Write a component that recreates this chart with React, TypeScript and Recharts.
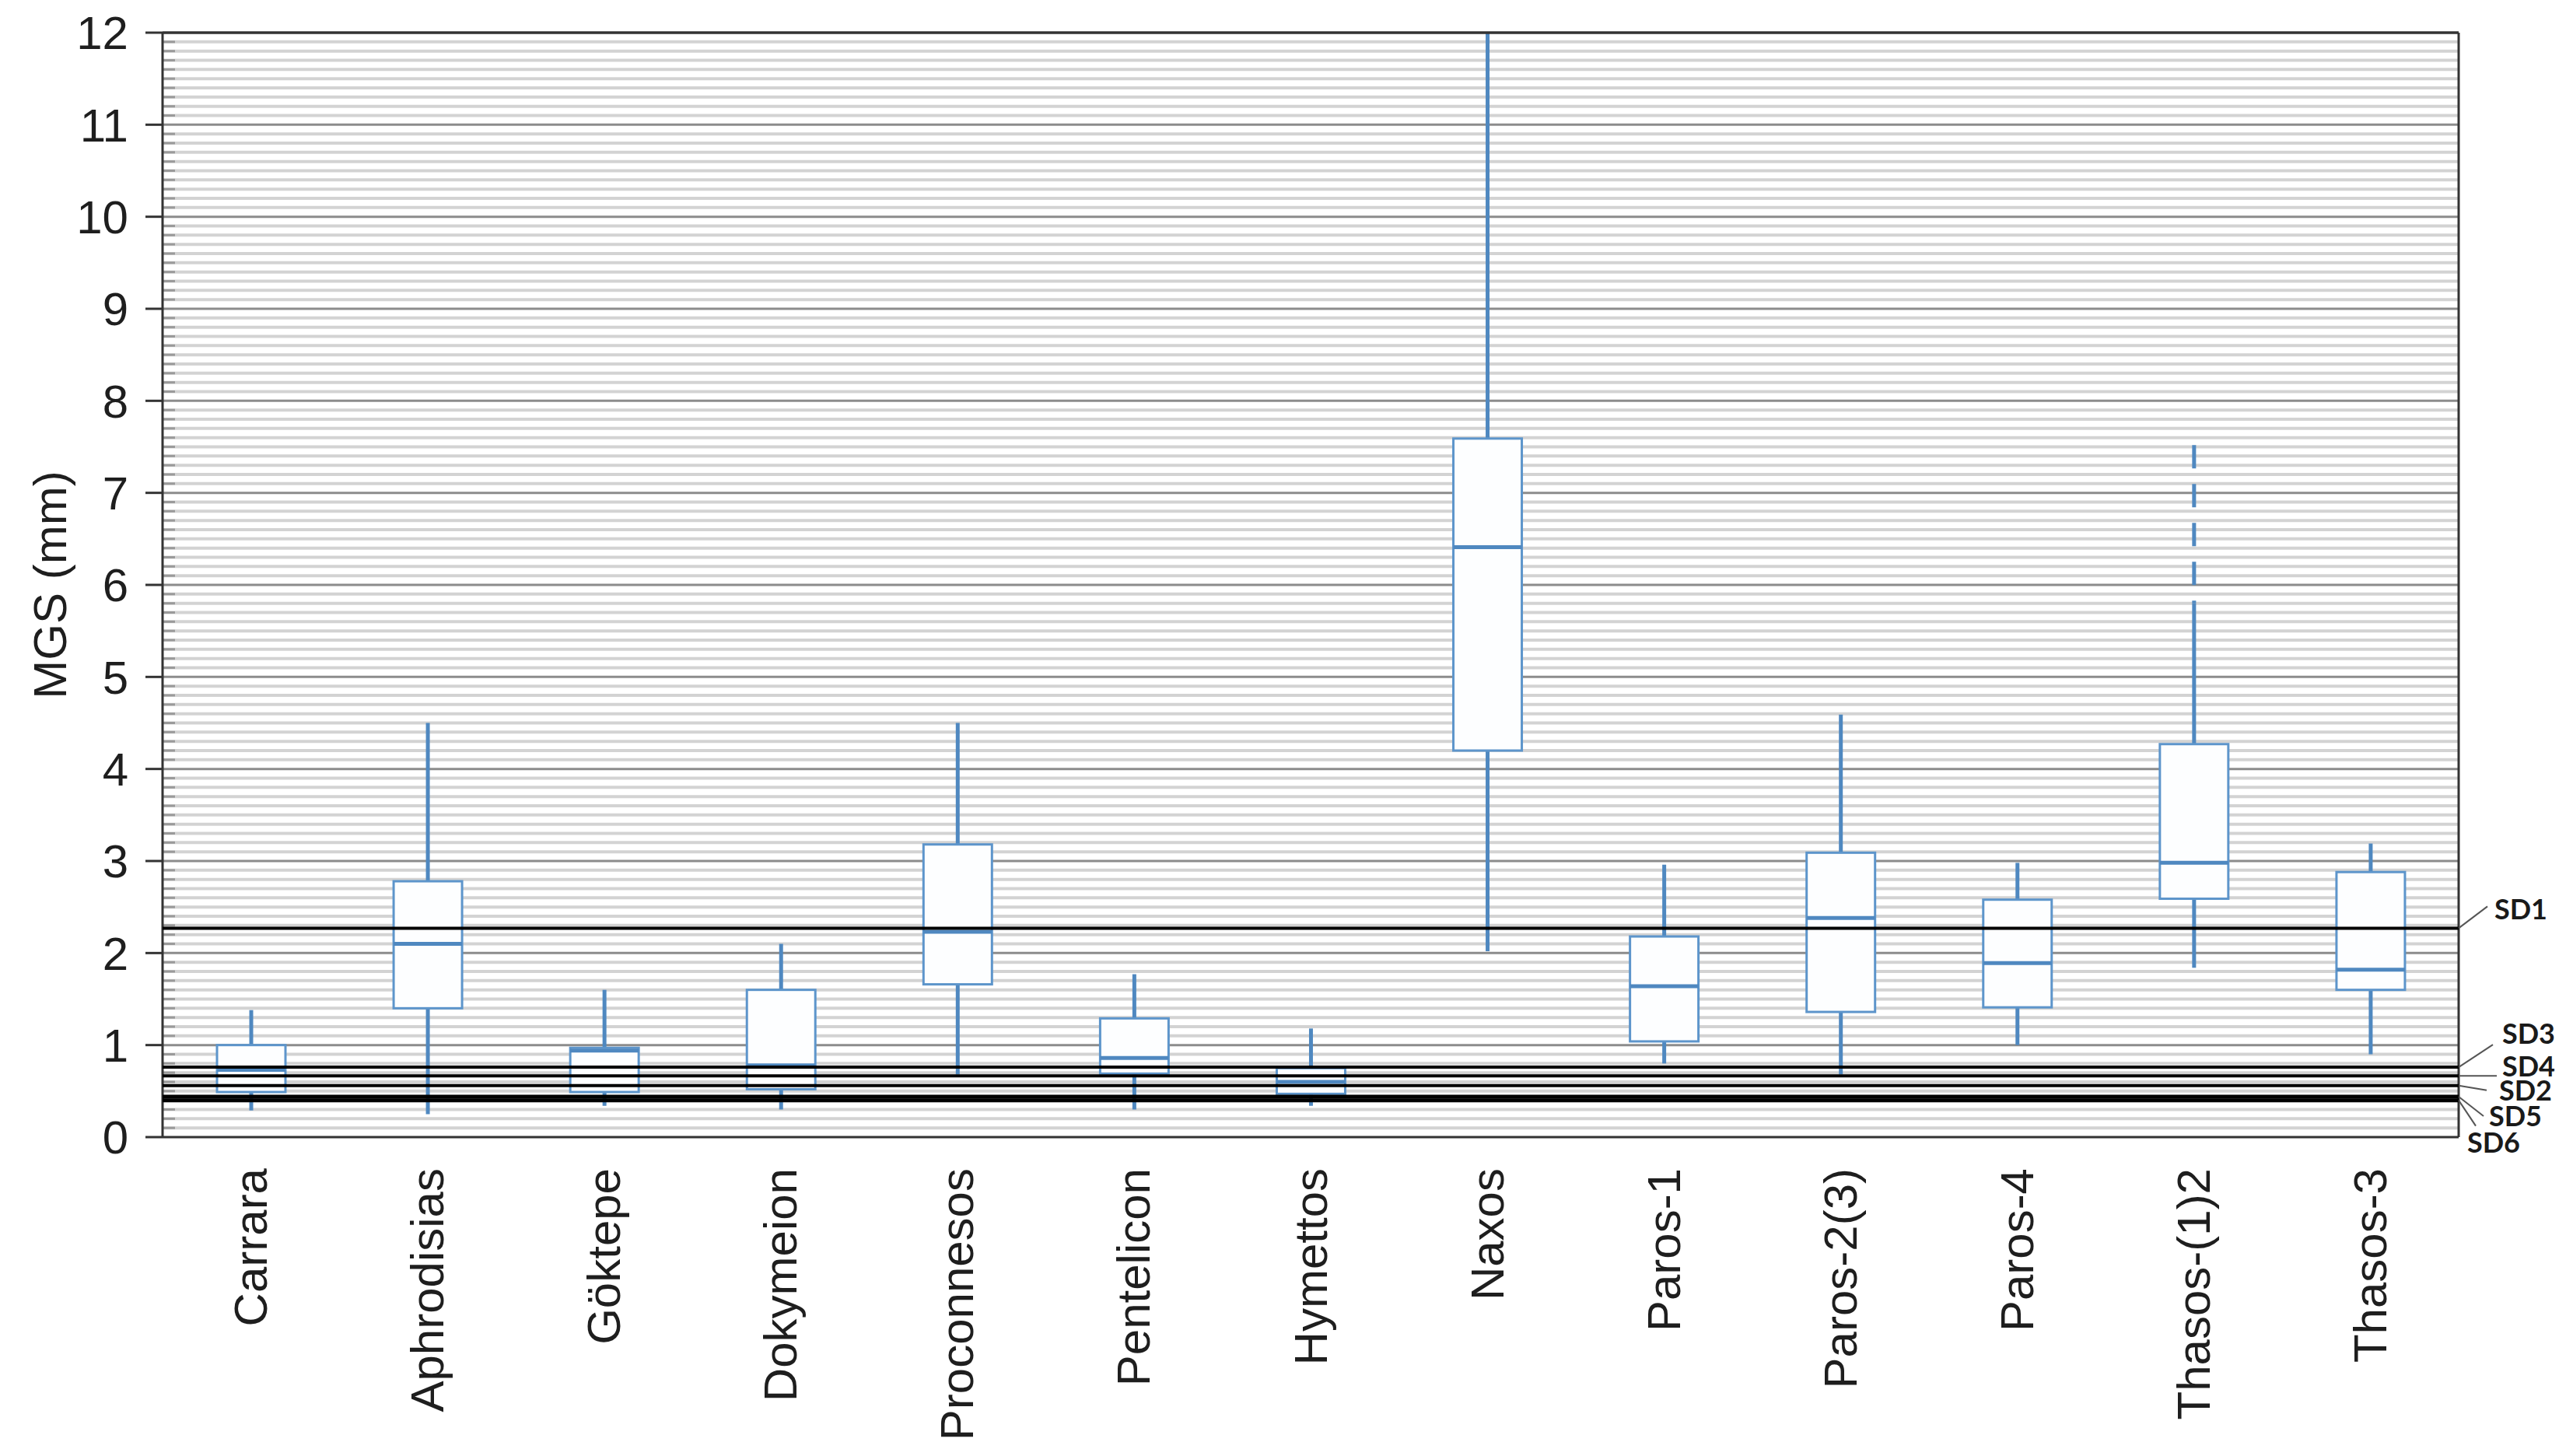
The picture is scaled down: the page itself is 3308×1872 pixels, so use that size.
import React from "react";
import {
  ComposedChart,
  Bar,
  XAxis,
  YAxis,
  ReferenceLine,
  Label,
} from "recharts";

// marble sources, MGS (mm) box statistics
const categories = [
  "Carrara",
  "Aphrodisias",
  "Göktepe",
  "Dokymeion",
  "Proconnesos",
  "Pentelicon",
  "Hymettos",
  "Naxos",
  "Paros-1",
  "Paros-2(3)",
  "Paros-4",
  "Thasos-(1)2",
  "Thasos-3",
];
const whiskerLow = [0.29, 0.25, 0.34, 0.3, 0.68, 0.3, 0.34, 2.02, 0.8, 0.68, 1.0, 1.84, 0.9];
const q1 = [0.49, 1.4, 0.49, 0.52, 1.66, 0.69, 0.47, 4.2, 1.04, 1.36, 1.41, 2.59, 1.6];
const median = [0.73, 2.1, 0.94, 0.78, 2.23, 0.86, 0.6, 6.41, 1.64, 2.38, 1.89, 2.98, 1.82];
const q3 = [1.0, 2.78, 0.97, 1.6, 3.18, 1.29, 0.75, 7.59, 2.18, 3.09, 2.58, 4.27, 2.88];
const whiskerHigh = [1.38, 4.5, 1.6, 2.1, 4.5, 1.77, 1.18, 12, 2.96, 4.59, 2.98, 5.8, 3.19];
// dashed extension above the whisker (only Thasos-(1)2)
const extremeHigh = [null, null, null, null, null, null, null, null, null, null, null, 7.52, null];

// SD reference levels
const sdNames = ["SD1", "SD3", "SD4", "SD2", "SD5", "SD6"];
const sdValues = [2.27, 0.76, 0.665, 0.56, 0.44, 0.4];

const yTicks = [0, 1, 2, 3, 4, 5, 6, 7, 8, 9, 10, 11, 12];
const minorTicks = Array.from({ length: 120 }, (_, i) => i / 10).filter((_, i) => i % 10 !== 0);

const data = categories.map((name, i) => ({
  name,
  low: whiskerLow[i],
  q1: q1[i],
  median: median[i],
  q3: q3[i],
  high: whiskerHigh[i],
  extreme: extremeHigh[i],
}));

const FONT = "'Liberation Sans', Arial, sans-serif";
const BLUE = "#4f88c0";
const BOX = "#5d95cb";
const FRAME = "#333";

// label leader offsets for the SD lines: [leaderDx, leaderDy, textDx, textDy]
const sdLabelOffsets = [
  [37, -28, 46, -11],
  [44, -29, 56, -30],
  [49, 0, 56, 1],
  [36, 6, 52, 19],
  [32, 25, 39, 38],
  [22, 33, 11, 67],
];

const BoxShape = (props: any) => {
  const { x, y, width, height, payload } = props;
  const top = Math.min(y, y + height);
  const bottom = Math.max(y, y + height);
  const lo = payload.low;
  const hi = payload.extreme ?? payload.high;
  const py = (v: number) => bottom - ((v - lo) / (hi - lo)) * (bottom - top);
  const cx = x + width / 2;
  return (
    <g>
      {payload.extreme != null && (
        <line x1={cx} x2={cx} y1={py(payload.extreme)} y2={py(payload.high)} stroke={BLUE} strokeWidth={5} strokeDasharray="30 20" />
      )}
      <line x1={cx} x2={cx} y1={py(payload.high)} y2={py(payload.q3)} stroke={BLUE} strokeWidth={5} />
      <line x1={cx} x2={cx} y1={py(payload.q1)} y2={py(payload.low)} stroke={BLUE} strokeWidth={5} />
      <rect
        x={x}
        y={py(payload.q3)}
        width={width}
        height={py(payload.q1) - py(payload.q3)}
        fill="#fdfeff"
        stroke={BOX}
        strokeWidth={3}
      />
      <line x1={x} x2={x + width} y1={py(payload.median)} y2={py(payload.median)} stroke={BLUE} strokeWidth={5} />
    </g>
  );
};

const MinorLine = (p: any) => (
  <g>
    <line x1={p.x1} x2={p.x2} y1={p.y1} y2={p.y2} stroke="#d3d3d3" strokeWidth={4} />
    <line x1={p.x1} x2={p.x1 + 16} y1={p.y1} y2={p.y2} stroke="#9a9a9a" strokeWidth={3} />
  </g>
);

const XTick = ({ x, y, payload }: any) => (
  <text
    x={x}
    y={y + 40}
    transform={`rotate(-90 ${x} ${y + 40})`}
    textAnchor="end"
    dominantBaseline="central"
    fontSize={60}
    fontFamily={FONT}
    fill="#1e1e1e"
  >
    {payload.value}
  </text>
);

const YLabel = ({ viewBox }: any) => {
  const cx = viewBox.x + 5;
  const cy = viewBox.y + viewBox.height / 2;
  return (
    <text
      x={cx}
      y={cy}
      transform={`rotate(-90 ${cx} ${cy})`}
      textAnchor="middle"
      dominantBaseline="central"
      fontSize={60}
      fontFamily={FONT}
      fill="#1e1e1e"
    >
      MGS (mm)
    </text>
  );
};

const sdLabel = (i: number) => ({ viewBox }: any) => {
  const [ldx, ldy, tdx, tdy] = sdLabelOffsets[i];
  const rx = viewBox.x + viewBox.width;
  const ly = viewBox.y;
  return (
    <g>
      <line x1={rx} y1={ly} x2={rx + ldx} y2={ly + ldy} stroke="#555" strokeWidth={2} />
      <text
        x={rx + tdx}
        y={ly + tdy}
        fontSize={36}
        fontWeight={700}
        fontFamily="Lato, 'Open Sans', sans-serif"
        fill="#1a1a1a"
      >
        {sdNames[i]}
      </text>
    </g>
  );
};

export default function App() {
  return (
    <div style={{ position: "absolute", left: 0, top: 0, width: 3308, height: 1872, background: "#fff" }}>
      <ComposedChart
        width={3308}
        height={1872}
        data={data}
        margin={{ top: 41, right: 146, bottom: 50, left: 59 }}
      >
        <XAxis
          dataKey="name"
          interval={0}
          height={360}
          tickSize={0}
          tickMargin={0}
          tickLine={false}
          axisLine={{ stroke: FRAME, strokeWidth: 3 }}
          tick={<XTick />}
        />
        <XAxis
          xAxisId="top"
          orientation="top"
          dataKey="name"
          height={1}
          tick={false}
          tickLine={false}
          axisLine={{ stroke: FRAME, strokeWidth: 3 }}
        />
        <YAxis
          domain={[0, 12]}
          ticks={yTicks}
          interval={0}
          width={150}
          tickSize={22}
          tickMargin={22}
          allowDataOverflow
          axisLine={{ stroke: FRAME, strokeWidth: 3 }}
          tickLine={{ stroke: FRAME, strokeWidth: 3 }}
          tick={{ fontSize: 60, fontFamily: FONT, fill: "#1e1e1e" }}
        >
          <Label content={<YLabel />} />
        </YAxis>
        <YAxis
          yAxisId="right"
          orientation="right"
          domain={[0, 12]}
          width={1}
          tick={false}
          tickLine={false}
          axisLine={{ stroke: FRAME, strokeWidth: 3 }}
        />

        {minorTicks.map((v) => (
          <ReferenceLine key={`m${v}`} y={v} zIndex={-100} shape={<MinorLine />} />
        ))}
        {yTicks.slice(1, -1).map((v) => (
          <ReferenceLine key={`M${v}`} y={v} zIndex={-100} stroke="#8c8c8c" strokeWidth={3} />
        ))}

        <Bar
          dataKey={(d: any) => [d.low, d.extreme ?? d.high]}
          barSize={88}
          shape={<BoxShape />}
          isAnimationActive={false}
        />

        {sdValues.map((v, i) => (
          <ReferenceLine
            key={sdNames[i]}
            y={v}
            zIndex={900}
            stroke="#000"
            strokeWidth={i >= 4 ? 5 : 4}
            label={<Label content={sdLabel(i)} />}
          />
        ))}

        {/* plot frame top edge */}
        <ReferenceLine y={12} zIndex={900} stroke={FRAME} strokeWidth={3} />
      </ComposedChart>
    </div>
  );
}
